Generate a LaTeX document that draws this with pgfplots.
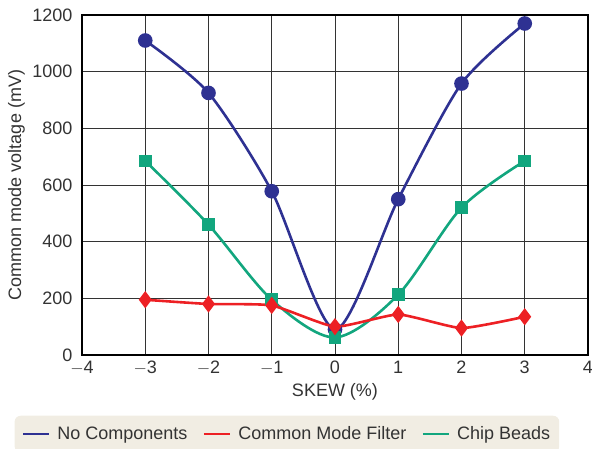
\documentclass[border=0pt]{standalone}
\usepackage{pgfplots}
\pgfplotsset{compat=1.18}
\usepackage{fontspec}
\setmainfont{Liberation Sans}
\definecolor{cblue}{HTML}{2E3192}
\definecolor{cred}{HTML}{ED2024}
\definecolor{cgreen}{HTML}{12A67E}
\definecolor{cbeige}{HTML}{F1EDE3}
\definecolor{ctext}{HTML}{333333}
\begin{document}
\begin{tikzpicture}
\begin{axis}[
  name=ax,
  scale only axis,
  width=506pt, height=340pt,
  xmin=-4, xmax=4, ymin=0, ymax=1200,
  xtick={-4,...,4},
  ytick={0,200,...,1200},
  xticklabels={$-$4,$-$3,$-$2,$-$1,0,1,2,3,4},
  grid=major,
  major grid style={black!80, line width=0.9pt},
  axis line style={black, line width=1.1pt},
  major tick length=0pt,
  tick label style={font=\fontsize{18}{21}\selectfont, text=ctext},
  xticklabel style={yshift=-4pt, inner sep=2pt},
  yticklabel style={xshift=-6pt, inner ysep=0pt},
  label style={font=\fontsize{18}{21}\selectfont, text=ctext},
  /pgf/number format/assume math mode=true,
  /pgf/number format/1000 sep={},
  xlabel={SKEW (\%)},
  ylabel={Common mode voltage (mV)},
  xlabel style={at={(axis description cs:0.5,-0.1235)}, anchor=base},
  ylabel style={at={(axis description cs:-0.1294,0.5)}, anchor=center},
  legend columns=6,
  legend style={at={(axis description cs:0.405,-0.2324)}, anchor=center,
    fill=cbeige, draw=none, rounded corners=6pt,
    font=\fontsize{18}{21}\selectfont, text=ctext,
    inner xsep=7pt, inner ysep=9pt,
    /tikz/every odd column/.append style={column sep=5pt},
    /tikz/every even column/.append style={column sep=13pt}},
  legend image code/.code={\draw[#1, line width=2.8pt] (0pt,0pt) -- (26pt,0pt);},
]
\addplot[cblue, line width=2.6pt, smooth, tension=0.45, mark=*, mark size=6pt, mark options={fill=cblue, draw=cblue}]
coordinates {(-3,1110) (-2,925) (-1,578) (0,90) (1,550) (2,958) (3,1170)};
\addlegendentry{No Components}
\addplot[cgreen, line width=2.6pt, smooth, tension=0.5, mark=square*, mark size=5pt, mark options={fill=cgreen, draw=cgreen}, forget plot]
coordinates {(-3,685) (-2,460) (-1,195) (0,62) (1,213) (2,520) (3,685)};
\addplot[cred, line width=2.6pt, smooth, tension=0.3, mark=diamond*, mark size=6.5pt, mark options={fill=cred, draw=cred}]
coordinates {(-3,195) (-2,180) (-1,175) (0,100) (1,143) (2,95) (3,135)};
\addlegendentry{Common Mode Filter}
\addlegendimage{cgreen, line width=2.6pt}
\addlegendentry{Chip Beads}
\end{axis}
\pgfresetboundingbox
\path[use as bounding box] ([xshift=-82pt,yshift=-94pt]ax.south west) rectangle ++(592pt,449pt);
\end{tikzpicture}
\end{document}
